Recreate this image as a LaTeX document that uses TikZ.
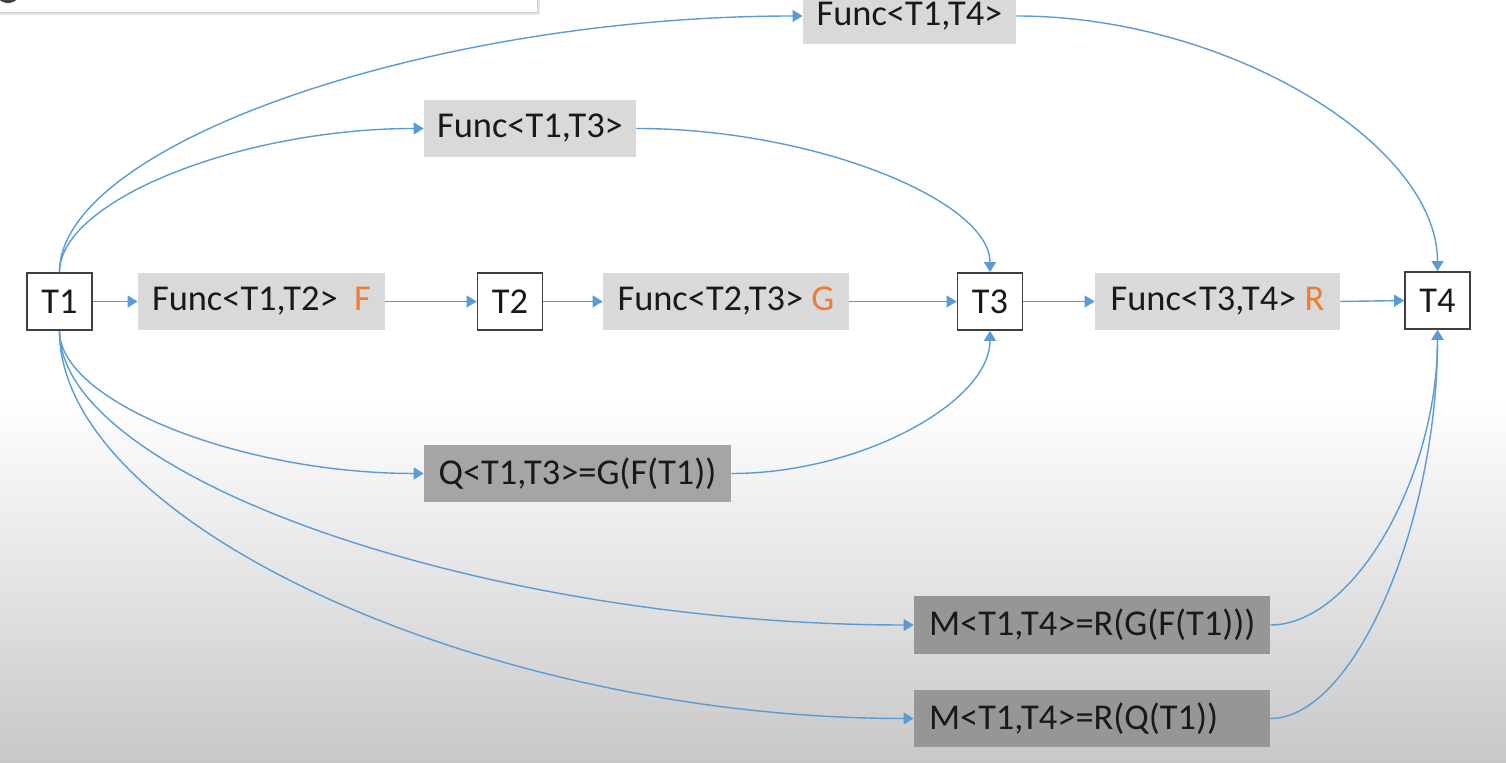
\documentclass[tikz,border=0pt]{standalone}
\usepackage{fontspec}
\setmainfont{Carlito}
\usetikzlibrary{arrows.meta,calc}
\definecolor{linkblue}{HTML}{5B9BD5}
\definecolor{accent}{HTML}{ED7D31}
\definecolor{boxlight}{HTML}{D9D9D9}
\definecolor{boxmid}{HTML}{A6A5A5}
\definecolor{boxdark}{HTML}{979696}
\definecolor{framegray}{HTML}{404040}
\definecolor{bggray}{HTML}{C8C8C8}

\tikzset{
  % curve leaving vertically, arriving horizontally
  vcurve/.style={to path={.. controls ($(\tikztostart)!.5!(\tikztostart|-\tikztotarget)$)
      and ($(\tikztotarget)!.5!(\tikztostart|-\tikztotarget)$) .. (\tikztotarget) \tikztonodes}},
  % curve leaving horizontally, arriving vertically
  hcurve/.style={to path={.. controls ($(\tikztostart)!.5!(\tikztotarget|-\tikztostart)$)
      and ($(\tikztotarget)!.5!(\tikztotarget|-\tikztostart)$) .. (\tikztotarget) \tikztonodes}},
}

\begin{document}
\begin{tikzpicture}[x=0.5pt,y=-0.5pt,
  every node/.style={font=\fontsize{18.2}{22}\selectfont, text=black!90},
  typebox/.style={draw=framegray, line width=0.9pt, fill=white,
    minimum width=32.5pt, minimum height=28.5pt, inner sep=0pt},
  funcbox/.style={fill=boxlight, minimum height=28.5pt, inner sep=0pt},
  qbox/.style={fill=boxmid, minimum height=28.5pt, inner sep=0pt},
  mbox/.style={fill=boxdark, minimum height=28.5pt, inner ysep=0pt, inner xsep=7.5pt,
    text width=163pt, align=left},
  conn/.style={draw=linkblue, line width=0.7pt, -{Triangle[width=6pt,length=5pt]}},
]
\useasboundingbox (0,0) rectangle (1506,763);
\clip (0,0) rectangle (1506,763);

% background
\fill[white] (0,0) rectangle (1506,763);
\shade[top color=white, bottom color=bggray] (0,400) rectangle (1506,763);

% panel at the upper left edge
\fill[black!10] (0,0) rectangle (540,15);
\fill[white] (0,0) rectangle (537,12);
\draw[black!18, line width=0.4pt] (537,0) -- (537,12) -- (0,12);
\fill[black!75] (8,-11) circle[radius=14];

% type boxes
\node[typebox] (t1) at (59.5,301.5) {T1};
\node[typebox] (t2) at (510,301.5) {T2};
\node[typebox] (t3) at (990,301.5) {T3};
\node[typebox] (t4) at (1437.5,300.5) {T4};

% function boxes on the main row
\node[funcbox, minimum width=123.5pt] (f12) at (261.5,301.5) {Func<T1,T2>\ \ \textcolor{accent}{F}};
\node[funcbox, minimum width=123pt] (f23) at (726,301.5) {Func<T2,T3> \textcolor{accent}{G}};
\node[funcbox, minimum width=122.5pt] (f34) at (1217.5,301.5) {Func<T3,T4> \textcolor{accent}{R}};

% direct functions
\node[funcbox, minimum width=106.5pt] (f14) at (909.5,16) {Func<T1,T4>};
\node[funcbox, minimum width=106pt] (f13) at (530,128.5) {Func<T1,T3>};

% compositions
\node[qbox, minimum width=153.5pt] (q13) at (577.5,473.5) {Q<T1,T3>=G(F(T1))};
\node[mbox, minimum height=29pt] (m1) at (1092,625) {M<T1,T4>=R(G(F(T1)))};
\node[mbox] (m2) at (1092,718.5) {M<T1,T4>=R(Q(T1))};

% main chain
\draw[conn] (t1.east) -- (f12.west);
\draw[conn] (f12.east) -- (t2.west);
\draw[conn] (t2.east) -- (f23.west);
\draw[conn] (f23.east) -- (t3.west);
\draw[conn] (t3.east) -- (f34.west);
\draw[conn] (f34.east) -- (t4.west);

% arcs above the chain
\draw[conn] (t1.north) to[vcurve] (f14.west);
\draw[conn] (t1.north) to[vcurve] (f13.west);
\draw[conn] (f13.east) to[hcurve] (t3.north);
\draw[conn] (f14.east) to[hcurve] (t4.north);

% arcs below the chain
\draw[conn] (t1.south) to[vcurve] (q13.west);
\draw[conn] (q13.east) to[hcurve] (t3.south);
\draw[conn] (t1.south) to[vcurve] (m1.west);
\draw[conn] (t1.south) to[vcurve] (m2.west);
\draw[conn] (m1.east) to[hcurve] (t4.south);
\draw[conn] (m2.east) to[hcurve] (t4.south);
\end{tikzpicture}
\end{document}
